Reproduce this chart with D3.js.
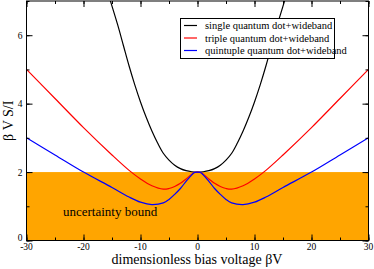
<!DOCTYPE html>
<html><head><meta charset="utf-8">
<script src="https://cdn.jsdelivr.net/npm/d3@7"></script>
<style>body{margin:0;background:#fff}svg{display:block}</style>
</head><body>
<script>
const singleX = [-16,-15,-14,-13,-12,-11,-10,-9,-8,-7,-6,-5,-4,-3,-2,-1,0,1,2,3,4,5,6,7,8,9,10,11,12,13,14,15,16];
const singleY = [7.4,6.85,6.3,5.7,5.1,4.55,4.05,3.6,3.2,2.85,2.55,2.35,2.2,2.1,2.04,2.01,2.0,2.01,2.04,2.1,2.2,2.35,2.55,2.85,3.2,3.6,4.05,4.55,5.1,5.7,6.3,6.85,7.4];
const tripleX = [-30,-25,-20,-15,-12,-10,-8,-6,-5,-4,-3,-2,-1,-0.5,0,0.5,1,2,3,4,5,6,8,10,12,15,20,25,30];
const tripleY = [5.0,4.15,3.3,2.5,2.05,1.8,1.6,1.5,1.52,1.58,1.67,1.8,1.94,1.99,2.0,1.99,1.94,1.8,1.67,1.58,1.52,1.5,1.6,1.8,2.05,2.5,3.3,4.15,5.0];
const quintX = [-30,-25,-20,-15,-12,-10,-8,-6,-5,-4,-3,-2,-1,-0.5,0,0.5,1,2,3,4,5,6,8,10,12,15,20,25,30];
const quintY = [3.0,2.5,2.0,1.55,1.27,1.12,1.05,1.1,1.2,1.35,1.52,1.73,1.92,1.99,2.0,1.99,1.92,1.73,1.52,1.35,1.2,1.1,1.05,1.12,1.27,1.55,2.0,2.5,3.0];
const seriesNames = ["single quantum dot+wideband","triple quantum dot+wideband","quintuple quantum dot+wideband"];
const seriesColors = ["#000000","#ff0000","#0000ff"];
const xTicks = [-30,-20,-10,0,10,20,30];
const yTicks = [0,2,4,6];
const boundValue = 2;
const boundLabel = "uncertainty bound";
const xLabel = "dimensionless bias voltage βV";
const yLabel = "β V S/I";

const FONT = "Liberation Serif";
const W=374,H=269;
const m={l:26.5,r:5.5,t:1,b:28.5};
const svg=d3.select("body").append("svg").attr("width",W).attr("height",H).style("font-family",FONT);
const x=d3.scaleLinear().domain([-30,30]).range([m.l,W-m.r]);
const y=d3.scaleLinear().domain([0,7]).range([H-m.b,m.t]);

svg.append("clipPath").attr("id","clip").append("rect")
  .attr("x",x(-30)).attr("y",y(7)).attr("width",x(30)-x(-30)).attr("height",y(0)-y(7));

// uncertainty region
svg.append("rect").attr("x",x(-30)).attr("y",y(boundValue)).attr("width",x(30)-x(-30))
  .attr("height",y(0)-y(boundValue)).attr("fill","#ffa500");
svg.append("text").style("font-family",FONT).attr("x",63).attr("y",216).attr("font-size",13).attr("fill","#000").text(boundLabel);

const line=d3.line().x(d=>x(d[0])).y(d=>y(d[1])).curve(d3.curveCatmullRom.alpha(0.5));
const data=[d3.zip(singleX,singleY),d3.zip(tripleX,tripleY),d3.zip(quintX,quintY)];
const g=svg.append("g").attr("clip-path","url(#clip)");
data.forEach((d,i)=>{
  g.append("path").datum(d).attr("d",line).attr("fill","none").attr("stroke",seriesColors[i]).attr("stroke-width",1.2);
});

// axes with inward ticks on all sides
const minorX=d3.range(-30,31,5), minorY=d3.range(0,7.01,1);
function tickAxis(axisFn, scale, major, minor, transform){
  const a=svg.append("g").attr("transform",transform);
  a.call(axisFn(scale).tickValues(minor).tickSize(-3).tickFormat(""));
  a.call(g=>g.selectAll(".domain").remove());
  const b=svg.append("g").attr("transform",transform);
  b.call(axisFn(scale).tickValues(major).tickSize(-6).tickFormat(""));
  b.call(g=>g.selectAll(".domain").remove());
  return b;
}
tickAxis(d3.axisBottom,x,xTicks,minorX,`translate(0,${y(0)})`);
tickAxis(d3.axisTop,x,xTicks,minorX,`translate(0,${y(7)})`);
tickAxis(d3.axisLeft,y,yTicks,minorY,`translate(${x(-30)},0)`);
tickAxis(d3.axisRight,y,yTicks,minorY,`translate(${x(30)},0)`);
svg.selectAll(".tick line").attr("stroke","#000");

// frame
svg.append("rect").attr("x",x(-30)).attr("y",y(7)).attr("width",x(30)-x(-30)).attr("height",y(0)-y(7))
  .attr("fill","none").attr("stroke","#000").attr("stroke-width",1);

// tick labels
svg.selectAll(".xl").data(xTicks).enter().append("text").style("font-family",FONT).attr("x",d=>x(d)).attr("y",y(0)+9.5)
  .attr("text-anchor","middle").attr("font-size",9.5).text(d=>d);
svg.selectAll(".yl").data(yTicks).enter().append("text").style("font-family",FONT).attr("x",x(-30)-4).attr("y",d=>y(d)+(d===0?0:3.5))
  .attr("text-anchor","end").attr("font-size",9.5).text(d=>d);

svg.append("text").style("font-family",FONT).attr("x",197).attr("y",264).attr("text-anchor","middle").attr("font-size",14).text(xLabel);
svg.append("text").style("font-family",FONT).attr("transform",`translate(13,${y(3.5)}) rotate(-90)`).attr("text-anchor","middle").attr("font-size",14).text(yLabel);

// legend
const lg=svg.append("g");
lg.append("rect").attr("x",180.5).attr("y",18.5).attr("width",154).attr("height",40).attr("fill","#fff").attr("stroke","#000").attr("stroke-width",1);
seriesNames.forEach((n,i)=>{
  const yy=25.5+i*12.5;
  lg.append("line").attr("x1",184).attr("x2",197).attr("y1",yy).attr("y2",yy).attr("stroke",seriesColors[i]).attr("stroke-width",1.2);
  lg.append("text").style("font-family",FONT).attr("x",205).attr("y",yy+3.5).attr("font-size",10.5).text(n);
});
</script>
</body></html>
